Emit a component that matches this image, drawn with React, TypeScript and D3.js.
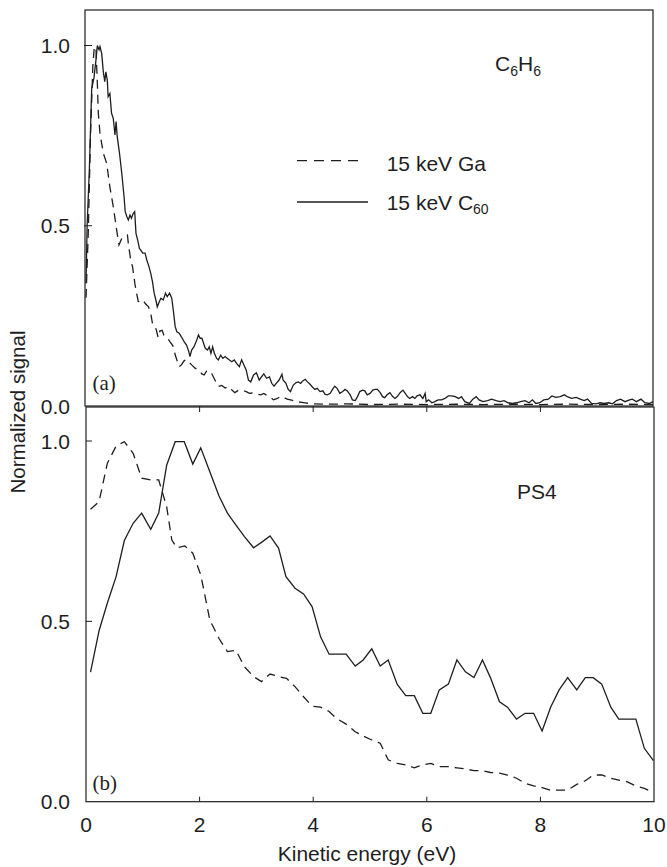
import React from "react";
import * as d3 from "d3";

// ---- Data ----
const xTicks = [0, 2, 4, 6, 8, 10];
const yTicks = [0, 0.5, 1.0];

// Panel (a): C6H6, 15 keV C60 (solid)
const topC60: [number, number][] = [
  [0.0, 0.34], [0.02, 0.5], [0.06, 0.66], [0.1, 0.88], [0.14, 0.91], [0.176, 0.96], [0.2, 1.0],
  [0.23, 0.988], [0.246, 0.997], [0.276, 0.978], [0.305, 0.927], [0.33, 0.9], [0.35, 0.927],
  [0.375, 0.904], [0.39, 0.858], [0.42, 0.867], [0.45, 0.812], [0.48, 0.798], [0.51, 0.752],
  [0.53, 0.789], [0.55, 0.747], [0.59, 0.701], [0.63, 0.645], [0.67, 0.581], [0.69, 0.539],
  [0.72, 0.525], [0.745, 0.516], [0.775, 0.53], [0.8, 0.521], [0.83, 0.534], [0.857, 0.539],
  [0.88, 0.479], [0.91, 0.46], [0.94, 0.437], [0.96, 0.433], [1.0, 0.424], [1.04, 0.424],
  [1.07, 0.405], [1.11, 0.386], [1.14, 0.368], [1.17, 0.345], [1.2, 0.313], [1.23, 0.294],
  [1.255, 0.275], [1.29, 0.289], [1.32, 0.299], [1.36, 0.294], [1.4, 0.313], [1.43, 0.303],
  [1.47, 0.313], [1.51, 0.299], [1.54, 0.262], [1.57, 0.22], [1.6, 0.206], [1.64, 0.202],
  [1.68, 0.192], [1.73, 0.178], [1.77, 0.169], [1.81, 0.151], [1.83, 0.137], [1.86, 0.155],
  [1.9, 0.164], [1.95, 0.183], [1.98, 0.197], [2.01, 0.188], [2.04, 0.188], [2.07, 0.174],
  [2.1, 0.16], [2.14, 0.155], [2.17, 0.164], [2.2, 0.146], [2.23, 0.164], [2.26, 0.146],
  [2.3, 0.132], [2.33, 0.128], [2.37, 0.141], [2.41, 0.132], [2.45, 0.137], [2.49, 0.132],
  [2.52, 0.128], [2.565, 0.123], [2.61, 0.128], [2.65, 0.118], [2.7, 0.109], [2.74, 0.128],
  [2.78, 0.114], [2.82, 0.1], [2.86, 0.072], [2.9, 0.067], [2.95, 0.086], [3.0, 0.092],
  [3.05, 0.072], [3.09, 0.081], [3.13, 0.089], [3.18, 0.077], [3.23, 0.081], [3.27, 0.063],
  [3.31, 0.055], [3.36, 0.065], [3.4, 0.072], [3.45, 0.088], [3.47, 0.072], [3.52, 0.063],
  [3.56, 0.046], [3.6, 0.04], [3.65, 0.058], [3.7, 0.065], [3.74, 0.067], [3.78, 0.063],
  [3.81, 0.069], [3.86, 0.074], [3.9, 0.067], [3.94, 0.061], [3.99, 0.052], [4.03, 0.046],
  [4.07, 0.049], [4.12, 0.04], [4.17, 0.042], [4.21, 0.032], [4.25, 0.031], [4.3, 0.035],
  [4.34, 0.046], [4.38, 0.055], [4.42, 0.049], [4.47, 0.035], [4.52, 0.04], [4.56, 0.046],
  [4.6, 0.042], [4.65, 0.031], [4.69, 0.017], [4.74, 0.015], [4.78, 0.026], [4.82, 0.04],
  [4.87, 0.044], [4.91, 0.042], [4.95, 0.031], [5.0, 0.035], [5.05, 0.044], [5.09, 0.046],
  [5.13, 0.046], [5.18, 0.037], [5.22, 0.026], [5.26, 0.023], [5.3, 0.031], [5.35, 0.037],
  [5.4, 0.026], [5.44, 0.021], [5.48, 0.026], [5.53, 0.037], [5.58, 0.044], [5.62, 0.035],
  [5.66, 0.026], [5.7, 0.021], [5.75, 0.026], [5.79, 0.021], [5.83, 0.028], [5.88, 0.031],
  [5.93, 0.021], [5.97, 0.035], [5.99, 0.012], [6.03, 0.017], [6.09, 0.009], [6.14, 0.012],
  [6.2, 0.017], [6.26, 0.017], [6.32, 0.021], [6.38, 0.028], [6.44, 0.028], [6.5, 0.026],
  [6.56, 0.021], [6.61, 0.026], [6.67, 0.012], [6.75, 0.007], [6.81, 0.019], [6.87, 0.026],
  [6.92, 0.017], [6.99, 0.012], [7.07, 0.015], [7.14, 0.019], [7.22, 0.015], [7.29, 0.012],
  [7.36, 0.015], [7.43, 0.009], [7.51, 0.007], [7.58, 0.009], [7.65, 0.012], [7.73, 0.015],
  [7.8, 0.009], [7.86, 0.017], [7.92, 0.007], [7.99, 0.009], [8.06, 0.017], [8.14, 0.019],
  [8.2, 0.028], [8.27, 0.024], [8.35, 0.026], [8.42, 0.031], [8.47, 0.026], [8.55, 0.021],
  [8.63, 0.024], [8.7, 0.019], [8.77, 0.015], [8.83, 0.019], [8.9, 0.007], [8.98, 0.006],
  [9.05, 0.009], [9.12, 0.007], [9.2, 0.009], [9.27, 0.006], [9.34, 0.015], [9.41, 0.019],
  [9.49, 0.012], [9.57, 0.017], [9.62, 0.019], [9.69, 0.012], [9.77, 0.019], [9.84, 0.009],
  [9.92, 0.007], [9.98, 0.012],
];

// Panel (a): C6H6, 15 keV Ga (dashed)
const topGa: [number, number][] = [
  [0.0, 0.3], [0.04, 0.48], [0.08, 0.756], [0.12, 0.941], [0.146, 0.997], [0.176, 0.988],
  [0.2, 0.895], [0.217, 0.812], [0.246, 0.756], [0.305, 0.701], [0.364, 0.673], [0.42, 0.608],
  [0.48, 0.553], [0.54, 0.488], [0.58, 0.447], [0.63, 0.465], [0.69, 0.47], [0.73, 0.474],
  [0.745, 0.451], [0.787, 0.405], [0.82, 0.386], [0.86, 0.34], [0.89, 0.313], [0.92, 0.29],
  [0.95, 0.289], [1.0, 0.294], [1.04, 0.285], [1.1, 0.275], [1.14, 0.257], [1.17, 0.229],
  [1.2, 0.225], [1.24, 0.21], [1.27, 0.19], [1.3, 0.208], [1.34, 0.21], [1.37, 0.197],
  [1.42, 0.192], [1.48, 0.178], [1.53, 0.167], [1.57, 0.142], [1.61, 0.123], [1.64, 0.109],
  [1.68, 0.114], [1.73, 0.126], [1.77, 0.129], [1.82, 0.121], [1.86, 0.114], [1.92, 0.105],
  [1.98, 0.1], [2.04, 0.089], [2.08, 0.086], [2.12, 0.096], [2.17, 0.098], [2.21, 0.091],
  [2.27, 0.072], [2.33, 0.054], [2.39, 0.057], [2.45, 0.05], [2.51, 0.054], [2.56, 0.046],
  [2.62, 0.037], [2.68, 0.043], [2.74, 0.044], [2.82, 0.04], [2.88, 0.035], [2.93, 0.036],
  [3.0, 0.033], [3.08, 0.031], [3.13, 0.035], [3.19, 0.029], [3.25, 0.024], [3.3, 0.017],
  [3.37, 0.021], [3.43, 0.027], [3.49, 0.023], [3.54, 0.019], [3.62, 0.016], [3.71, 0.012],
  [3.8, 0.01], [3.89, 0.008], [4.0, 0.006], [4.3, 0.005], [4.6, 0.006], [5.0, 0.004],
  [5.5, 0.005], [6.0, 0.004], [6.5, 0.005], [7.0, 0.004], [7.5, 0.005], [8.0, 0.004],
  [8.5, 0.005], [9.0, 0.004], [9.5, 0.005], [10.0, 0.004],
];

// Panel (b): PS4, 15 keV C60 (solid)
const botC60: [number, number][] = [
  [0.08, 0.359], [0.23, 0.474], [0.375, 0.55], [0.53, 0.624], [0.675, 0.724], [0.83, 0.772],
  [0.98, 0.8], [1.14, 0.755], [1.28, 0.8], [1.42, 0.933], [1.57, 0.998], [1.73, 0.998],
  [1.88, 0.936], [2.02, 0.981], [2.18, 0.915], [2.34, 0.848], [2.49, 0.8], [2.64, 0.767],
  [2.79, 0.735], [2.95, 0.704], [3.09, 0.719], [3.24, 0.737], [3.39, 0.703], [3.52, 0.624],
  [3.68, 0.592], [3.83, 0.576], [3.98, 0.541], [4.13, 0.457], [4.28, 0.409], [4.58, 0.409],
  [4.74, 0.376], [4.88, 0.393], [5.03, 0.424], [5.18, 0.376], [5.32, 0.393], [5.48, 0.325],
  [5.63, 0.294], [5.78, 0.294], [5.93, 0.245], [6.07, 0.245], [6.22, 0.31], [6.38, 0.326],
  [6.53, 0.393], [6.68, 0.36], [6.83, 0.344], [6.98, 0.393], [7.12, 0.344], [7.28, 0.277],
  [7.42, 0.262], [7.58, 0.229], [7.73, 0.245], [7.88, 0.245], [8.03, 0.196], [8.18, 0.262],
  [8.33, 0.31], [8.48, 0.344], [8.64, 0.31], [8.79, 0.344], [8.93, 0.344], [9.08, 0.326],
  [9.24, 0.262], [9.38, 0.229], [9.53, 0.229], [9.68, 0.229], [9.83, 0.148], [9.99, 0.114],
];

// Panel (b): PS4, 15 keV Ga (dashed)
const botGa: [number, number][] = [
  [0.08, 0.811], [0.23, 0.832], [0.375, 0.938], [0.53, 0.986], [0.675, 0.998], [0.83, 0.966],
  [0.98, 0.897], [1.14, 0.892], [1.28, 0.892], [1.42, 0.818], [1.51, 0.726], [1.6, 0.704],
  [1.74, 0.709], [1.88, 0.689], [2.02, 0.629], [2.18, 0.504], [2.34, 0.453], [2.49, 0.416],
  [2.64, 0.42], [2.79, 0.374], [2.95, 0.347], [3.09, 0.333], [3.24, 0.354], [3.39, 0.347],
  [3.53, 0.342], [3.68, 0.319], [3.83, 0.291], [3.98, 0.265], [4.13, 0.262], [4.28, 0.25],
  [4.41, 0.231], [4.58, 0.215], [4.74, 0.194], [4.88, 0.182], [5.03, 0.171], [5.18, 0.162],
  [5.32, 0.116], [5.48, 0.106], [5.63, 0.102], [5.78, 0.094], [5.93, 0.102], [6.07, 0.106],
  [6.22, 0.097], [6.38, 0.097], [6.53, 0.094], [6.68, 0.091], [6.83, 0.086], [6.98, 0.086],
  [7.12, 0.081], [7.28, 0.079], [7.42, 0.074], [7.58, 0.065], [7.73, 0.051], [7.88, 0.044],
  [8.03, 0.039], [8.18, 0.032], [8.33, 0.032], [8.48, 0.032], [8.64, 0.048], [8.79, 0.058],
  [8.93, 0.074], [9.08, 0.074], [9.24, 0.065], [9.38, 0.06], [9.53, 0.055], [9.68, 0.044],
  [9.83, 0.037], [9.99, 0.025],
];

const W = 667;
const H = 867;
const INK = "#1e1e1e";
const FONT = "'Liberation Sans', Arial, Helvetica, sans-serif";
const SERIF = "'Liberation Serif', 'Times New Roman', serif";

export default function App() {
  const x = d3.scaleLinear().domain([0, 10]).range([86, 654]);
  const yTop = d3.scaleLinear().domain([0, 1]).range([406, 45.5]);
  const yBot = d3.scaleLinear().domain([0, 1]).range([801.7, 441]);

  const lineTop = d3.line<[number, number]>().x((d) => x(d[0])).y((d) => yTop(d[1]));
  const lineBot = d3.line<[number, number]>().x((d) => x(d[0])).y((d) => yBot(d[1]));

  const topPanelTop = 10;
  const botPanelTop = 407;
  const x0 = x(0);
  const x1 = x(10);

  const tickFont = 21;

  return (
    <svg
      width={W}
      height={H}
      viewBox={`0 0 ${W} ${H}`}
      style={{ position: "absolute", left: 0, top: 0, background: "#fff" }}
    >
      <rect x={0} y={0} width={W} height={H} fill="#fff" />

      {/* Panel (a) frame */}
      <rect
        x={x0 - 1}
        y={topPanelTop}
        width={x1 - x0}
        height={yTop(0) - topPanelTop}
        fill="none"
        stroke={INK}
        strokeWidth={1.2}
      />
      {/* Panel (b) frame */}
      <rect
        x={x0}
        y={botPanelTop}
        width={x1 - x0}
        height={yBot(0) - botPanelTop}
        fill="none"
        stroke={INK}
        strokeWidth={1.2}
      />

      {/* Panel (a) y ticks */}
      {yTicks.map((t) => (
        <g key={"ta" + t}>
          {t > 0 && (
            <line x1={x0 - 2} x2={x0 + 6} y1={yTop(t)} y2={yTop(t)} stroke={INK} strokeWidth={1} />
          )}
          <text
            x={70}
            y={yTop(t) + 7.5}
            textAnchor="end"
            fontFamily={FONT}
            fontSize={tickFont}
            fill={INK}
          >
            {t.toFixed(1)}
          </text>
        </g>
      ))}
      {/* Panel (a) x ticks (outward) */}
      {xTicks.slice(1, -1).map((t) => (
        <line key={"xa" + t} x1={x(t)} x2={x(t)} y1={yTop(0)} y2={yTop(0) + 6} stroke={INK} strokeWidth={1} />
      ))}

      {/* Panel (b) y ticks */}
      {yTicks.map((t) => (
        <g key={"tb" + t}>
          {t > 0 && (
            <line x1={x0} x2={x0 + 6} y1={yBot(t)} y2={yBot(t)} stroke={INK} strokeWidth={1} />
          )}
          <text
            x={70}
            y={yBot(t) + 7.5}
            textAnchor="end"
            fontFamily={FONT}
            fontSize={tickFont}
            fill={INK}
          >
            {t.toFixed(1)}
          </text>
        </g>
      ))}
      {/* Panel (b) x ticks (inward) + labels */}
      {xTicks.map((t) => (
        <g key={"xb" + t}>
          {t > 0 && t < 10 && (
            <line x1={x(t)} x2={x(t)} y1={yBot(0)} y2={yBot(0) - 5} stroke={INK} strokeWidth={1} />
          )}
          <text
            x={x(t)}
            y={832}
            textAnchor="middle"
            fontFamily={FONT}
            fontSize={tickFont}
            fill={INK}
          >
            {t}
          </text>
        </g>
      ))}

      {/* Curves */}
      <path d={lineTop(topGa) || ""} fill="none" stroke={INK} strokeWidth={1.3} strokeDasharray="9,6" />
      <path d={lineTop(topC60) || ""} fill="none" stroke={INK} strokeWidth={1.3} />
      <path d={lineBot(botGa) || ""} fill="none" stroke={INK} strokeWidth={1.3} strokeDasharray="9,6" />
      <path d={lineBot(botC60) || ""} fill="none" stroke={INK} strokeWidth={1.3} />

      {/* Legend */}
      <line x1={297} x2={364} y1={160.7} y2={160.7} stroke={INK} strokeWidth={1.3} strokeDasharray="10,7" />
      <line x1={297} x2={368} y1={202} y2={202} stroke={INK} strokeWidth={1.3} />
      <text x={386.7} y={170.7} fontFamily={FONT} fontSize={21} fill={INK}>
        15 keV Ga
      </text>
      <text x={386.7} y={209.5} fontFamily={FONT} fontSize={21} fill={INK}>
        15 keV C
        <tspan fontSize={14} dy={4}>60</tspan>
      </text>

      {/* Panel labels */}
      <text x={495} y={71} fontFamily={FONT} fontSize={21} fill={INK}>
        C<tspan fontSize={14} dy={5}>6</tspan>
        <tspan dy={-5}>H</tspan>
        <tspan fontSize={14} dy={5}>6</tspan>
      </text>
      <text x={517} y={499} fontFamily={FONT} fontSize={21} fill={INK}>
        PS4
      </text>
      <text x={92.5} y={390} fontFamily={SERIF} fontSize={21} fill={INK}>
        (a)
      </text>
      <text x={92.5} y={790} fontFamily={SERIF} fontSize={21} fill={INK}>
        (b)
      </text>

      {/* Axis titles */}
      <text
        transform={`translate(25,412) rotate(-90)`}
        textAnchor="middle"
        fontFamily={FONT}
        fontSize={20.5}
        fill={INK}
      >
        Normalized signal
      </text>
      <text x={367} y={861} textAnchor="middle" fontFamily={FONT} fontSize={21} fill={INK}>
        Kinetic energy (eV)
      </text>
    </svg>
  );
}
